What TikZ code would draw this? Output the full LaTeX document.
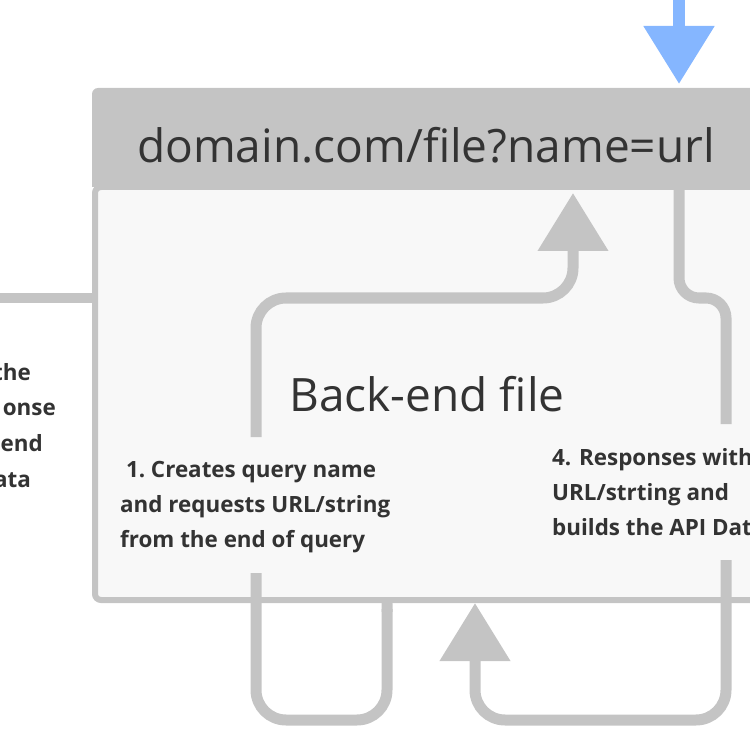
\documentclass[tikz,border=0pt]{standalone}
\usepackage{fontspec}
\setmainfont{Open Sans}
\usetikzlibrary{arrows.meta}
\definecolor{wire}{HTML}{C4C4C4}
\definecolor{panel}{HTML}{F8F8F8}
\definecolor{ink}{HTML}{333333}
\definecolor{inflow}{HTML}{85B6FF}
\tikzset{
    flow/.style={draw=wire, line width=11pt, rounded corners=#1},
    flow/.default=30pt,
    bighead/.style={-{Triangle[width=68pt,length=58pt]}},
    bigtext/.style={text=ink, inner sep=0pt, font=\fontsize{46}{50}\selectfont},
    steptext/.style={text=ink, inner sep=0pt, align=left,
        font=\fontsize{22.4}{35}\bfseries\selectfont}
}
\begin{document}
\begin{tikzpicture}[x=1pt, y=-1pt]
    \useasboundingbox (0,0) rectangle (750,730);
    \clip (0,0) rectangle (750,730);

    % Back-end panel and its address bar
    \filldraw[fill=panel, draw=wire, line width=6pt, rounded corners=6pt]
        (95,187) rectangle (820,600);
    \fill[wire] (92,187) [rounded corners=6pt] -- (92,88) -- (820,88)
        [sharp corners] -- (820,187) -- cycle;
    \node[bigtext, anchor=base] (url) at (426,163) {domain.com/file?name=url};
    \node[bigtext, anchor=base] (backend) at (427,411) {Back-end file};

    % Step labels
    \node[steptext, anchor=north west] (request) at (120,461)
        {\ 1.\ Creates query name\\and requests URL/string\\from the end of query};
    \node[steptext, anchor=north west] (respond) at (552,448)
        {4. Responses with\\URL/strting and\\builds the API Dat};
    % cut-off label on the left
    \foreach \word/\xr/\yb [count=\i] in {the/31/380, onse/56/415, end/43/451, ata/31/487}
        \node[text=ink, inner sep=0pt, anchor=base east,
              font=\fontsize{22.4}{35}\bfseries\selectfont] (left\i) at (\xr,\yb) {\word};

    % Anchor points of the connectors
    \coordinate (reqtop) at (256,437);
    \coordinate (urltip) at (573,193);
    \coordinate (urlout) at (679,187);
    \coordinate (resptop) at (726,424);
    \coordinate (respbot) at (726,560);
    \coordinate (bottip) at (475,603);
    \coordinate (reqbot) at (256,573);
    \coordinate (loopend) at (387,598);
    \coordinate (leftin) at (0,298);
    \coordinate (leftout) at (92,298);
    \coordinate (infrom) at (679,0);
    \coordinate (intip) at (679,84);

    % Incoming request
    \draw[draw=inflow, line width=12pt, bighead] (infrom) -- (intip);

    % 1. query name goes up into the address
    \draw[flow, bighead] (reqtop) -- (reqtop |- 0,298) -- (urltip |- 0,298) -- (urltip);
    % address comes down towards step 4
    \draw[flow=20pt] (urlout) -- (urlout |- 0,298) -- (resptop |- 0,298) -- (resptop);
    % step 4 returns to the panel
    \draw[flow, bighead] (respbot) -- (respbot |- 0,720) -- (bottip |- 0,720) -- (bottip);
    % loop under step 1
    \draw[flow, -{Round Cap[]}] (reqbot) -- (reqbot |- 0,720) -- (loopend |- 0,720) -- (loopend);
    % line from the left
    \draw[draw=wire, line width=10pt] (leftin) -- (leftout);
\end{tikzpicture}
\end{document}
